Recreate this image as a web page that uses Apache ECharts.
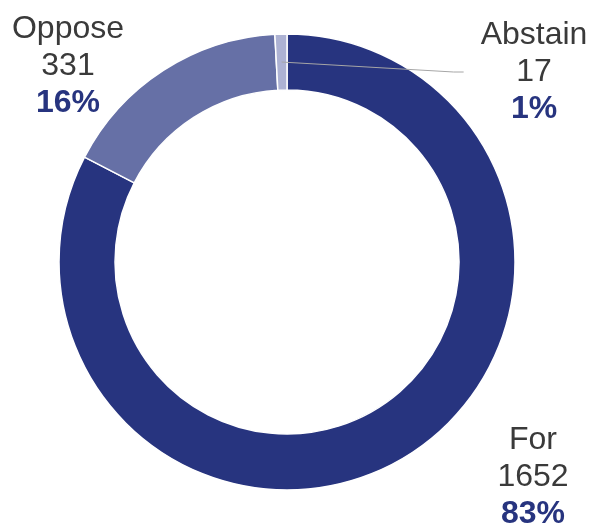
<!DOCTYPE html>
<html>
<head>
<meta charset="utf-8">
<style>
  html, body { margin: 0; padding: 0; background: #ffffff; }
  #chart { width: 593px; height: 525px; }
</style>
<script src="https://cdn.jsdelivr.net/npm/echarts@6/dist/echarts.min.js"></script>
</head>
<body>
<div id="chart"></div>
<script>
// Vote breakdown
const categories = ['For', 'Oppose', 'Abstain'];
const votes = [1652, 331, 17];
const percentLabels = ['83%', '16%', '1%'];

const sliceColors = ['#27347f', '#6670a6', '#adb2d3'];
const textColor = '#3a3a3a';
const percentColor = '#27347f';

// label anchor spots (centre of each text block)
const labelSpots = {
  For: { x: 533, y: 477 },
  Oppose: { x: 68, y: 66 },
  Abstain: { x: 534, y: 72 }
};

const pieData = categories.map((name, i) => ({
  name: name,
  value: votes[i],
  pct: percentLabels[i],
  itemStyle: { color: sliceColors[i] }
}));

const centre = ['48.4%', '49.9%'];
const fontStack = 'Liberation Sans, Arial, sans-serif';

const chart = echarts.init(document.getElementById('chart'), null, { renderer: 'canvas' });
chart.setOption({
  animation: false,
  series: [
    {
      type: 'pie',
      z: 1,
      center: centre,
      radius: [172, 228],
      startAngle: 90,
      clockwise: true,
      silent: true,
      label: { show: false },
      labelLine: { show: false },
      itemStyle: { borderColor: '#ffffff', borderWidth: 1.5 },
      data: pieData
    },
    {
      // transparent overlay ring used to anchor the labels and the leader line
      type: 'pie',
      z: 5,
      zlevel: 1,
      center: centre,
      radius: [172, 200],
      startAngle: 90,
      clockwise: true,
      silent: true,
      itemStyle: { color: 'rgba(0,0,0,0)', borderWidth: 0 },
      label: {
        show: true,
        position: 'outside',
        overflow: 'none',
        padding: [0, 17],
        backgroundColor: 'rgba(255,255,255,0)',
        formatter: p => '{n|' + p.name + '}\n{n|' + p.value + '}\n{p|' + p.data.pct + '}',
        rich: {
          n: {
            fontFamily: fontStack,
            fontSize: 32,
            lineHeight: 37,
            color: textColor,
            align: 'center'
          },
          p: {
            fontFamily: fontStack,
            fontSize: 32,
            fontWeight: 'bold',
            lineHeight: 37,
            color: percentColor,
            align: 'center'
          }
        }
      },
      labelLine: {
        show: true,
        length: 10,
        length2: 10,
        smooth: false,
        lineStyle: { color: '#a6a6a6', width: 1 }
      },
      labelLayout: function (params) {
        const name = categories[params.dataIndex];
        const spot = labelSpots[name];
        return {
          x: spot.x,
          y: spot.y,
          align: 'center',
          verticalAlign: 'middle'
        };
      },
      data: categories.map((name, i) => ({
        name: name,
        value: votes[i],
        pct: percentLabels[i],
        labelLine: { show: name === 'Abstain' }
      }))
    }
  ]
});
</script>
</body>
</html>
